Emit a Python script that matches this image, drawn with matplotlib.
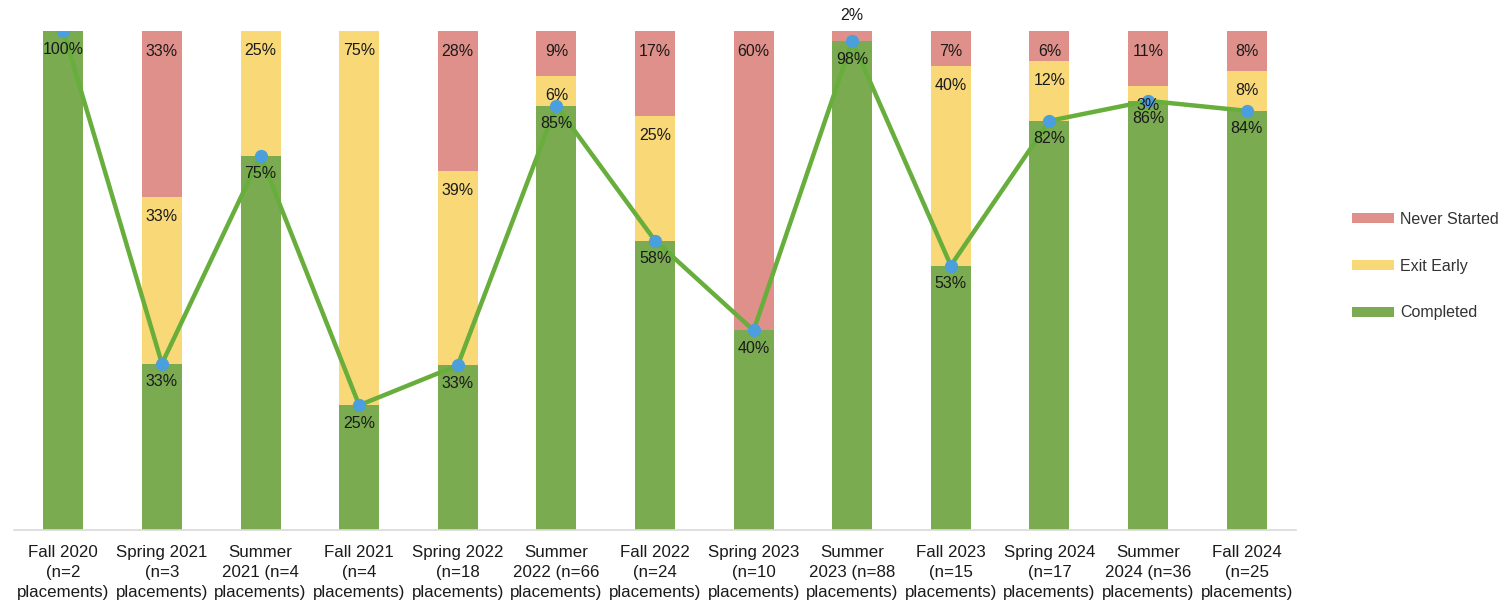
import matplotlib
matplotlib.use("Agg")
import matplotlib.pyplot as plt
import numpy as np

categories = [
    "Fall 2020\n(n=2\nplacements)", "Spring 2021\n(n=3\nplacements)", "Summer\n2021 (n=4\nplacements)",
    "Fall 2021\n(n=4\nplacements)", "Spring 2022\n(n=18\nplacements)", "Summer\n2022 (n=66\nplacements)",
    "Fall 2022\n(n=24\nplacements)", "Spring 2023\n(n=10\nplacements)", "Summer\n2023 (n=88\nplacements)",
    "Fall 2023\n(n=15\nplacements)", "Spring 2024\n(n=17\nplacements)", "Summer\n2024 (n=36\nplacements)",
    "Fall 2024\n(n=25\nplacements)",
]
completed = [100, 33, 75, 25, 33, 85, 58, 40, 98, 53, 82, 86, 84]
exit_early = [0, 33, 25, 75, 39, 6, 25, 0, 0, 40, 12, 3, 8]
never_started = [0, 33, 0, 0, 28, 9, 17, 60, 2, 7, 6, 11, 8]

c_red = "#E0908A"
c_yel = "#F8D877"
c_grn = "#7AAB50"
c_line = "#68AE3C"
c_mark = "#4A9FDC"

plt.rcParams['font.family'] = ['Liberation Sans', 'DejaVu Sans']

fig = plt.figure(figsize=(15.05, 6.07), dpi=100)
ax = fig.add_axes([14/1505, 1-530/607, (1296-14)/1505, (530-31)/607])

x = np.arange(len(categories))
comp = np.array(completed, float)
ex = np.array(exit_early, float)
ns = np.array(never_started, float)
tot = comp + ex + ns
fc, fe, fn = comp/tot, ex/tot, ns/tot

w = 0.405
ax.bar(x, fc, w, color=c_grn, label="Completed", zorder=2)
ax.bar(x, fe, w, bottom=fc, color=c_yel, label="Exit Early", zorder=2)
ax.bar(x, fn, w, bottom=fc+fe, color=c_red, label="Never Started", zorder=2)

ax.plot(x, fc, color=c_line, lw=3.2, zorder=3)
ax.plot(x, fc, 'o', color=c_mark, ms=8.5, zorder=4)

fs = 11.5
tc = "#1a1a1a"
for i in range(len(x)):
    ax.annotate(f"{completed[i]}%", (x[i], fc[i]), xytext=(0, -13), textcoords="offset points",
                ha="center", va="center", fontsize=fs, color=tc, zorder=5)
    if exit_early[i] > 0:
        top = fc[i] + fe[i]
        ax.annotate(f"{exit_early[i]}%", (x[i], top), xytext=(0, -14), textcoords="offset points",
                    ha="center", va="center", fontsize=fs, color=tc, zorder=5)
    if never_started[i] > 0:
        off = -14.5 if never_started[i] > 3 else 11.5
        ax.annotate(f"{never_started[i]}%", (x[i], 1.0), xytext=(0, off), textcoords="offset points",
                    ha="center", va="center", fontsize=fs, color=tc, zorder=5)

ax.set_xlim(-0.5, len(x) - 0.5)
ax.set_ylim(0, 1)
ax.set_xticks(x)
ax.set_xticklabels(categories, fontsize=12.2, linespacing=1.4, color="#1a1a1a")
ax.tick_params(axis='x', length=0, pad=11)
ax.set_yticks([])
for s in ["top", "right", "left"]:
    ax.spines[s].set_visible(False)
ax.spines["bottom"].set_color("#D9D9D9")
ax.spines["bottom"].set_linewidth(1.2)

handles, labels = ax.get_legend_handles_labels()
leg = fig.legend(handles[::-1], labels[::-1], loc="center left", bbox_to_anchor=(1352/1505, 1-266/607),
                 frameon=False, fontsize=11.5, handlelength=2.6, handleheight=0.55,
                 labelspacing=2.0, handletextpad=0.4, borderaxespad=0, borderpad=0)
for t in leg.get_texts():
    t.set_color("#333333")

fig.savefig("out.png", dpi=100)
